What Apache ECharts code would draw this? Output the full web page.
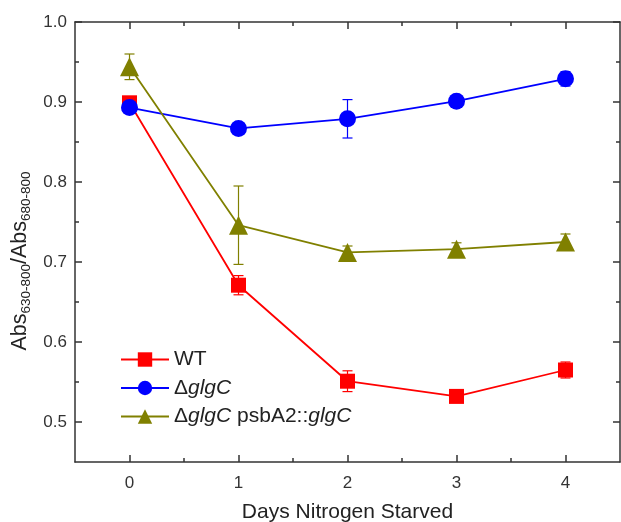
<!DOCTYPE html>
<html><head><meta charset="utf-8">
<script src="https://cdn.jsdelivr.net/npm/echarts@6/dist/echarts.min.js"></script>
<style>html,body{margin:0;padding:0;background:#fff}#c{width:621px;height:522px}</style>
</head><body><div id="c"></div>
<script>
const days = [0, 1, 2, 3, 4];
const wt = [0.899, 0.671, 0.551, 0.532, 0.565];
const wtErr = [0.005, 0.012, 0.013, 0.004, 0.010];
const dglgC = [0.893, 0.867, 0.879, 0.901, 0.929];
const dglgCErr = [0.004, 0.003, 0.024, 0.004, 0.009];
const comp = [0.944, 0.746, 0.712, 0.716, 0.725];
const compErr = [0.016, 0.049, 0.008, 0.008, 0.010];
const seriesNames = ['WT', 'ΔglgC', 'ΔglgC psbA2::glgC'];
const xMajorTicks = [0, 1, 2, 3, 4];
const xMinorTicks = [0.5, 1.5, 2.5, 3.5];
const yMajorTicks = [0.5, 0.6, 0.7, 0.8, 0.9, 1.0];
const yMinorTicks = [0.55, 0.65, 0.75, 0.85, 0.95];
const xTitle = 'Days Nitrogen Starved';

const FONT = "'Liberation Sans', Arial, sans-serif";
const AX = '#333';
const colors = ['#ff0000', '#0000ff', '#808000'];

function xAx(pos, ticks, len, show) {
  return {
    type: 'value', min: -0.5, max: 4.5, position: pos,
    axisLine: {show: show, onZero: false, lineStyle: {color: AX, width: 1.5}},
    axisTick: {show: true, inside: true, length: len, customValues: ticks, lineStyle: {color: AX, width: 1.5}},
    axisLabel: {show: show && pos === 'bottom', customValues: xMajorTicks, margin: 13,
      color: '#333', fontSize: 17, fontFamily: FONT, formatter: v => String(v)},
    splitLine: {show: false}
  };
}
function yAx(pos, ticks, len, show) {
  return {
    type: 'value', min: 0.45, max: 1.0, position: pos,
    axisLine: {show: show, onZero: false, lineStyle: {color: AX, width: 1.5}},
    axisTick: {show: true, inside: true, length: len, customValues: ticks, lineStyle: {color: AX, width: 1.5}},
    axisLabel: {show: show && pos === 'left', customValues: yMajorTicks, margin: 8,
      color: '#333', fontSize: 17, fontFamily: FONT, formatter: v => v.toFixed(1)},
    splitLine: {show: false}
  };
}

function errSeries(vals, errs, color) {
  return {
    type: 'custom', name: 'err', xAxisIndex: 0, yAxisIndex: 0, z: 1, silent: true,
    data: days.map((d, i) => [d, vals[i] - errs[i], vals[i] + errs[i]]),
    encode: {x: 0, y: [1, 2]},
    renderItem: function (params, api) {
      const x = api.value(0);
      const lo = api.coord([x, api.value(1)]);
      const hi = api.coord([x, api.value(2)]);
      const w = 5;
      const st = {stroke: color, lineWidth: 1.2};
      return {type: 'group', children: [
        {type: 'line', shape: {x1: lo[0], y1: lo[1], x2: hi[0], y2: hi[1]}, style: st},
        {type: 'line', shape: {x1: lo[0] - w, y1: lo[1], x2: lo[0] + w, y2: lo[1]}, style: st},
        {type: 'line', shape: {x1: hi[0] - w, y1: hi[1], x2: hi[0] + w, y2: hi[1]}, style: st}
      ]};
    }
  };
}

function lineSeries(name, vals, color, symbol, size) {
  return {
    type: 'line', name: name, xAxisIndex: 0, yAxisIndex: 0, z: 3,
    data: days.map((d, i) => [d, vals[i]]),
    symbol: symbol, symbolSize: size, showAllSymbol: true,
    lineStyle: {color: color, width: 1.8},
    itemStyle: {color: color, borderWidth: 0},
    emphasis: {disabled: true}, animation: false
  };
}

const chart = echarts.init(document.getElementById('c'), null, {renderer: 'canvas'});
chart.setOption({
  animation: false,
  backgroundColor: '#fff',
  grid: {left: 75, top: 22, right: 1, bottom: 60, containLabel: false, outerBoundsMode: 'none'},
  xAxis: [
    Object.assign(xAx('bottom', xMajorTicks, 7, true), {name: xTitle, nameLocation: 'middle', nameGap: 40,
      nameTextStyle: {fontSize: 21, fontFamily: FONT, color: '#222'}}),
    xAx('bottom', xMinorTicks, 4, false),
    xAx('top', xMajorTicks, 7, true),
    xAx('top', xMinorTicks, 4, false)
  ],
  yAxis: [
    yAx('left', yMajorTicks, 7, true),
    yAx('left', yMinorTicks, 4, false),
    yAx('right', yMajorTicks, 7, true),
    yAx('right', yMinorTicks, 4, false)
  ],
  legend: {
    data: seriesNames, orient: 'vertical', left: 120, top: 349, padding: 0,
    itemWidth: 48, itemHeight: 18, itemGap: 7.5,
    textStyle: {fontSize: 21, fontFamily: FONT, color: '#222', lineHeight: 21,
      rich: {n: {fontSize: 21, fontFamily: FONT, color: '#222', lineHeight: 21},
             i: {fontSize: 21, fontFamily: FONT, color: '#222', fontStyle: 'italic', lineHeight: 21}}},
    formatter: function (name) {
      if (name === 'WT') return '{n|WT}';
      if (name === 'ΔglgC') return '{n|Δ}{i|glgC}';
      return '{n|Δ}{i|glgC}{n| psbA2::}{i|glgC}';
    },
    selectedMode: false
  },
  graphic: [{
    type: 'text', x: 20, y: 261, rotation: Math.PI / 2,
    style: {
      text: '{a|Abs}{s|630-800}{a|/Abs}{s|680-800}',
      align: 'center', verticalAlign: 'middle',
      rich: {
        a: {fontSize: 21.5, fontFamily: FONT, fill: '#222', lineHeight: 26},
        s: {fontSize: 13.5, fontFamily: FONT, fill: '#222', lineHeight: 12, verticalAlign: 'bottom'}
      }
    }
  }],
  series: [
    errSeries(wt, wtErr, colors[0]),
    errSeries(dglgC, dglgCErr, colors[1]),
    errSeries(comp, compErr, colors[2]),
    lineSeries(seriesNames[0], wt, colors[0], 'rect', 15),
    lineSeries(seriesNames[1], dglgC, colors[1], 'circle', 17),
    lineSeries(seriesNames[2], comp, colors[2], 'triangle', 19)
  ]
});
</script>
</body></html>
